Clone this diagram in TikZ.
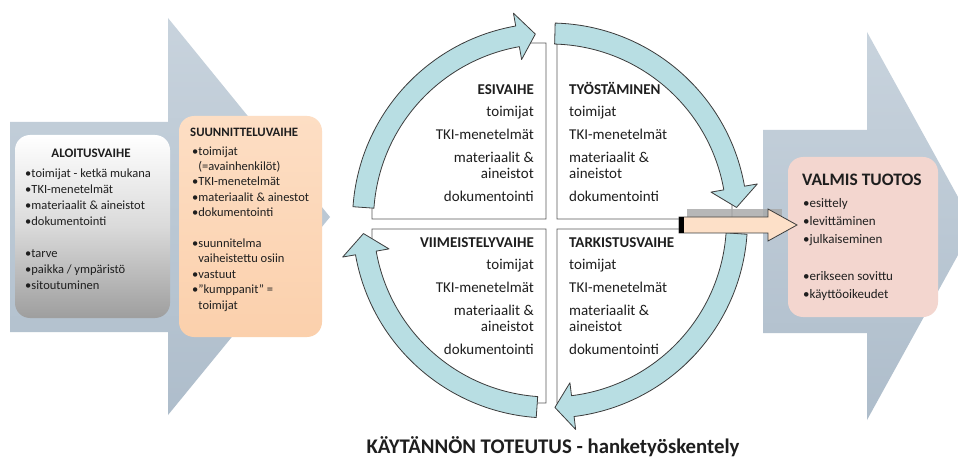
\documentclass[tikz,border=0pt]{standalone}
\usepackage{fontspec}
\setmainfont{Carlito}
\definecolor{bgarrowT}{RGB}{200,211,221}
\definecolor{bgarrowB}{RGB}{174,189,203}
\definecolor{peach}{RGB}{251,208,172}
\definecolor{peachT}{RGB}{253,222,196}
\definecolor{pinkbox}{RGB}{243,214,207}
\definecolor{cyanarrow}{RGB}{184,222,227}
\definecolor{outl}{RGB}{60,60,60}
\definecolor{boxline}{RGB}{90,90,90}
\definecolor{pasarrow}{RGB}{253,224,200}
\definecolor{txt}{RGB}{30,30,30}
\tikzset{
  bigarrow/.style={top color=bgarrowT, bottom color=bgarrowB, draw=none},
  roundbox/.style={rounded corners=15pt, draw=none},
  quad/.style={draw=boxline, line width=0.9pt},
  circarrow/.style={fill=cyanarrow, draw=outl, line width=0.8pt, line join=round},
  qtext/.style={inner sep=0pt, text=txt, font=\fontsize{15}{16}\selectfont},
  smalltext/.style={inner sep=0pt, text=txt, font=\fontsize{12.5}{16}\selectfont, align=left},
  boxhead/.style={inner sep=0pt, text=txt, font=\bfseries\fontsize{13}{15}\selectfont},
}
\newcommand\circarrowpath[3]{%
  \path[circarrow] ([shift={(550,243.5)}]#1:197.5) arc[start angle=#1, end angle=#2, radius=197.5]
    -- ([shift={(550,243.5)}]#2:210.5) -- ([shift={(550,243.5)}]#3:187)
    -- ([shift={(550,243.5)}]#2:163.5) -- ([shift={(550,243.5)}]#2:176.5)
    arc[start angle=#2, end angle=#1, radius=176.5] -- cycle;}
\begin{document}
\begin{tikzpicture}[x=1pt,y=1pt]
\useasboundingbox (0,0) rectangle (958,464);
\fill[white] (0,0) rectangle (958,464);
% big background arrows
\path[bigarrow] (10,342) -- (168,342) -- (168,446) -- (330,247) -- (168,49) -- (168,132) -- (10,132) -- cycle;
\begin{scope}
\clip (0,0) rectangle (958,464);
\path[bigarrow] (763,334) -- (867,334) -- (867,432) -- (974,238) -- (867,44) -- (867,131) -- (763,131) -- cycle;
\end{scope}
% left boxes
\path[roundbox, top color=white, bottom color={rgb,255:red,158;green,158;blue,158}, middle color={rgb,255:red,218;green,218;blue,218}] (15,146) rectangle (170,329);
\node[boxhead, anchor=base] (aloT) at (91,306) {ALOITUSVAIHE};
\node[smalltext, anchor=base west] (aloB) at (25,175) {•toimijat - ketkä mukana\\•TKI-menetelmät\\•materiaalit \& aineistot\\•dokumentointi\\[16pt]•tarve\\•paikka / ympäristö\\•sitoutuminen};
\path[roundbox, top color=peachT, bottom color=peach] (179,127) rectangle (322,348);
\node[boxhead, font=\bfseries\fontsize{12.8}{15}\selectfont, anchor=base west] (suuT) at (190,327) {SUUNNITTELUVAIHE};
\node[smalltext, font=\fontsize{12.5}{15.4}\selectfont, anchor=base west] (suuB) at (192,155) {•toimijat\\\phantom{•}(=avainhenkilöt)\\•TKI-menetelmät\\•materiaalit \& ainestot\\•dokumentointi\\[15.4pt]•suunnitelma\\\phantom{•}vaiheistettu osiin\\•vastuut\\•"kumppanit" =\\\phantom{•}toimijat};
% right box
\path[roundbox, fill=pinkbox] (788,147) rectangle (938,307);
\node[boxhead, font=\bfseries\fontsize{17.5}{19}\selectfont, anchor=base west] (valT) at (802,278) {VALMIS TUOTOS};
\node[smalltext, font=\fontsize{13}{18.3}\selectfont, anchor=base west] (valB) at (803,165.5) {•esittely\\•levittäminen\\•julkaiseminen\\[18.3pt]•erikseen sovittu\\•käyttöoikeudet};
% quadrant boxes (outer corner rounded, hidden under the ring)
\draw[quad] (546,245) -- (372,245) -- (372,275) arc[start angle=180, end angle=90, radius=146] -- (546,421) -- cycle;
\draw[quad] (557,245) -- (557,421) -- (586,421) arc[start angle=90, end angle=0, radius=146] -- (732,245) -- cycle;
\draw[quad] (546,235) -- (372,235) -- (372,207) arc[start angle=180, end angle=270, radius=146] -- (546,61) -- cycle;
\draw[quad] (557,235) -- (732,235) -- (732,207) arc[start angle=0, end angle=-90, radius=146] -- (557,61) -- cycle;
\node[qtext, align=right, anchor=base east] (tl) at (534,262) {\textbf{ESIVAIHE}\\[6pt]toimijat\\[7pt]TKI-menetelmät\\[7pt]materiaalit \&\\aineistot\\[7pt]dokumentointi};
\node[qtext, align=left, anchor=base west] (tr) at (569,262) {\textbf{TYÖSTÄMINEN}\\[6pt]toimijat\\[7pt]TKI-menetelmät\\[7pt]materiaalit \&\\aineistot\\[7pt]dokumentointi};
\node[qtext, align=right, anchor=base east] (bl) at (534,110) {\textbf{VIIMEISTELYVAIHE}\\[6pt]toimijat\\[7pt]TKI-menetelmät\\[7pt]materiaalit \&\\aineistot\\[7pt]dokumentointi};
\node[qtext, align=left, anchor=base west] (br) at (569,110) {\textbf{TARKISTUSVAIHE}\\[6pt]toimijat\\[7pt]TKI-menetelmät\\[7pt]materiaalit \&\\aineistot\\[7pt]dokumentointi};
% circular arrows
\circarrowpath{176}{100}{94.5}
\circarrowpath{88.5}{10}{4}
\circarrowpath{-4}{-83}{-88.5}
\circarrowpath{266}{190}{184}
% output arrow
\fill[gray!70, opacity=0.8] (687,247) rectangle (782,255);
\path[fill=pasarrow, draw=outl, line width=0.8pt, line join=miter] (679,247) -- (768,247) -- (768,255) -- (797,239) -- (768,223) -- (768,231) -- (679,231) -- cycle;
\fill[black] (679,231) rectangle (684,247);
% title
\node[inner sep=0pt, text=txt, font=\bfseries\fontsize{20.8}{24}\selectfont, anchor=base] (title) at (553,11) {KÄYTÄNNÖN TOTEUTUS - hanketyöskentely};
\end{tikzpicture}
\end{document}
